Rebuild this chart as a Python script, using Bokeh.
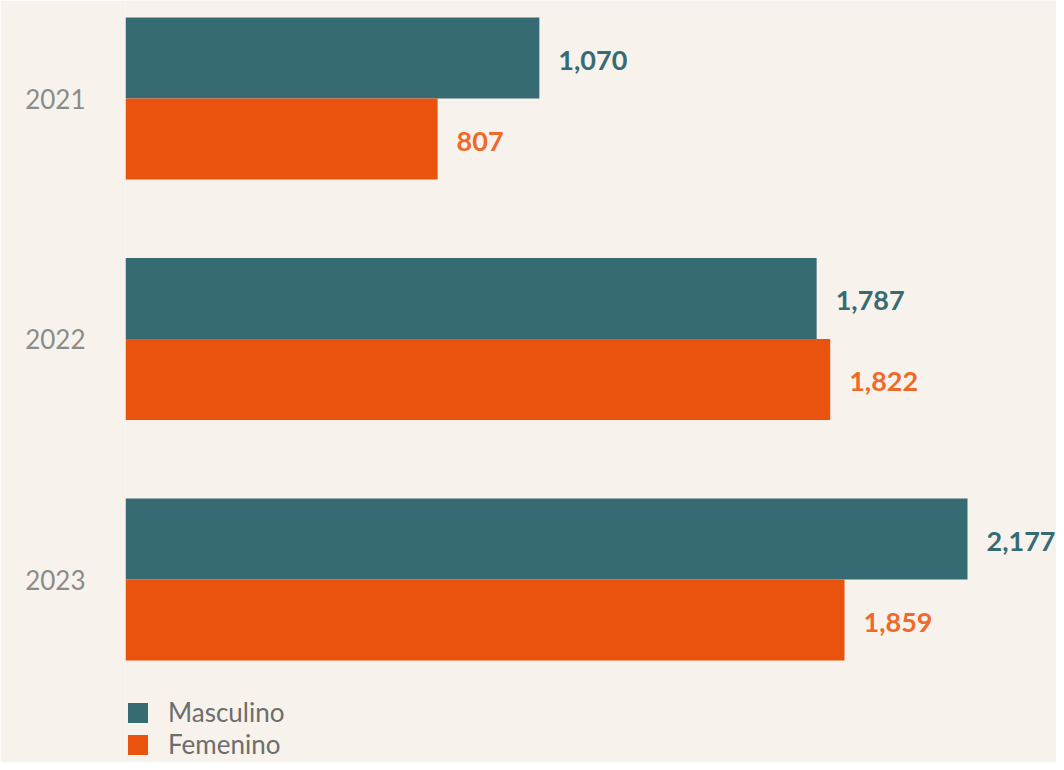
from bokeh.plotting import figure
from bokeh.models import Range1d, FixedTicker, ColumnDataSource, Legend, LegendItem
from bokeh.core.properties import value
from bokeh.embed import file_html
from bokeh.resources import INLINE

years = [2021, 2022, 2023]
year_labels = ["2021", "2022", "2023"]
masculino = [1070, 1787, 2177]
femenino = [807, 1822, 1859]

BG = "#f7f2ec"
TEAL = "#366b74"
ORANGE = "#e9530e"
TEAL_TXT = "#366b73"
ORANGE_TXT = "#ef6a2a"
FONT = "Lato"

PX_PER_UNIT_X = 842 / 2177.0
LEFT = 125
W, H = 1056, 762
PX_PER_YEAR = 240.5
BAR_H = 81 / PX_PER_YEAR
top = 2021 - 98 / PX_PER_YEAR
bottom = top + H / PX_PER_YEAR

p = figure(width=W, height=H, output_backend="svg", toolbar_location=None,
           x_range=Range1d(0, (W - LEFT) / PX_PER_UNIT_X),
           y_range=Range1d(bottom, top),
           min_border_left=LEFT, min_border_right=0, min_border_top=0, min_border_bottom=0,
           background_fill_color=BG, border_fill_color=BG, outline_line_color=None)
p.xaxis.visible = False
p.xgrid.visible = False
p.ygrid.visible = False

ya = p.yaxis[0]
ya.ticker = FixedTicker(ticks=years)
ya.major_label_overrides = {y: l for y, l in zip(years, year_labels)}
ya.axis_line_color = None
ya.major_tick_line_color = None
ya.minor_tick_line_color = None
ya.major_label_standoff = 34
ya.major_label_text_font = FONT
ya.major_label_text_font_size = "26px"
ya.major_label_text_color = "#8b8b89"

ym = [y - BAR_H / 2 for y in years]
yf = [y + BAR_H / 2 for y in years]
src_m = ColumnDataSource(dict(y=ym, v=masculino, t=[f"{v:,}" for v in masculino]))
src_f = ColumnDataSource(dict(y=yf, v=femenino, t=[f"{v:,}" for v in femenino]))

rm = p.hbar(y="y", left=0, right="v", height=BAR_H, source=src_m, fill_color=TEAL, line_color=None)
rf = p.hbar(y="y", left=0, right="v", height=BAR_H, source=src_f, fill_color=ORANGE, line_color=None)

for src, col in ((src_m, TEAL_TXT), (src_f, ORANGE_TXT)):
    p.text(x="v", y="y", text="t", source=src, x_offset=19, y_offset=2, text_baseline="middle",
           text_align="left", text_font=value(FONT), text_font_style="bold",
           text_font_size="27px", text_color=col)

legend = Legend(items=[LegendItem(label="Masculino", renderers=[rm]),
                       LegendItem(label="Femenino", renderers=[rf])],
                location=(0, 2), orientation="vertical",
                glyph_width=25, glyph_height=25, label_height=25, spacing=0,
                label_standoff=18, padding=0, margin=0,
                border_line_color=None, background_fill_alpha=0,
                label_text_font=FONT, label_text_font_size="26px",
                label_text_color="#6d6d6b")
p.add_layout(legend)

open("out.html", "w").write(file_html(p, INLINE))
